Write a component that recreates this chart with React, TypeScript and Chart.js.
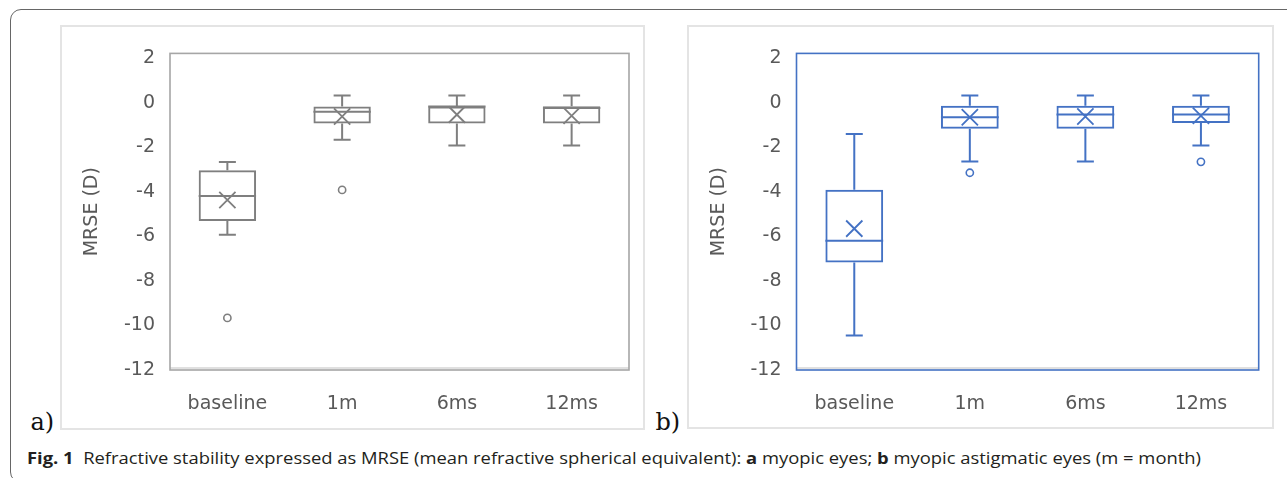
import React, { useEffect, useLayoutEffect, useRef } from 'react';
import { Chart, registerables } from 'chart.js';

Chart.register(...registerables);

// ---------- data ----------
const categories = ['baseline', '1m', '6ms', '12ms'];
const yTicks = [-12, -10, -8, -6, -4, -2, 0, 2];
const yMin = -12;
const yMax = 2.22;

// a) myopic eyes
const aMin = [-5.92, -1.66, -1.92, -1.92];
const aQ1 = [-5.31, -0.93, -0.93, -0.93];
const aMedian = [-4.18, -0.4, -0.17, -0.23];
const aQ3 = [-3.03, -0.17, -0.17, -0.15];
const aMax = [-2.66, 0.33, 0.33, 0.33];
const aMean = [-4.36, -0.61, -0.53, -0.58];
const aOutliers: (number | null)[] = [-9.66, -3.91, null, null];

// b) myopic astigmatic eyes
const bMin = [-10.45, -2.63, -2.63, -1.92];
const bQ1 = [-7.17, -1.16, -1.16, -0.91];
const bMedian = [-6.2, -0.65, -0.52, -0.52];
const bQ3 = [-3.9, -0.13, -0.13, -0.13];
const bMax = [-1.4, 0.33, 0.33, 0.33];
const bMean = [-5.65, -0.65, -0.61, -0.58];
const bOutliers: (number | null)[] = [null, -3.14, null, -2.65];

const yTitle = 'MRSE (D)';
const captionBold = 'Fig. 1';
const captionParts = [
  { t: 'Refractive stability expressed as MRSE (mean refractive spherical equivalent): ', b: false },
  { t: 'a', b: true },
  { t: ' myopic eyes; ', b: false },
  { t: 'b', b: true },
  { t: ' myopic astigmatic eyes (m = month)', b: false },
];

const CAPTION_WIDTH = 1174;
const TICK_FONT = { family: 'DejaVu Sans', size: 19 };
const TEXT_COLOR = '#595959';

type PanelProps = {
  left: number;
  top: number;
  width: number;
  height: number;
  inset: { left: number; top: number; right: number; bottom: number };
  color: string;
  borderColor: string;
  min: number[];
  q1: number[];
  median: number[];
  q3: number[];
  max: number[];
  mean: number[];
  outliers: (number | null)[];
};

function BoxPanel(p: PanelProps) {
  const ref = useRef<HTMLCanvasElement>(null);
  useEffect(() => {
    if (!ref.current) return;
    const extras = {
      id: 'boxExtras',
      afterDatasetDraw(chart: any, args: any) {
        if (args.index !== 0) return;
        const { ctx } = chart;
        const y = chart.scales.y;
        const meta = chart.getDatasetMeta(0);
        const cap = 8.5;
        ctx.save();
        ctx.strokeStyle = p.color;
        ctx.lineWidth = 2;
        meta.data.forEach((bar: any, i: number) => {
          const { x, width } = bar.getProps(['x', 'width'], true);
          const pMax = y.getPixelForValue(p.max[i]);
          const pQ3 = y.getPixelForValue(p.q3[i]);
          const pQ1 = y.getPixelForValue(p.q1[i]);
          const pMin = y.getPixelForValue(p.min[i]);
          const pMed = y.getPixelForValue(p.median[i]);
          ctx.beginPath();
          ctx.moveTo(x, pQ3);
          ctx.lineTo(x, pMax);
          ctx.moveTo(x - cap, pMax);
          ctx.lineTo(x + cap, pMax);
          ctx.moveTo(x, pQ1);
          ctx.lineTo(x, pMin);
          ctx.moveTo(x - cap, pMin);
          ctx.lineTo(x + cap, pMin);
          ctx.moveTo(x - width / 2, pMed);
          ctx.lineTo(x + width / 2, pMed);
          ctx.stroke();
        });
        ctx.restore();
      },
      afterDraw(chart: any) {
        const { ctx, chartArea: a } = chart;
        ctx.save();
        ctx.strokeStyle = '#d6d6d6';
        ctx.lineWidth = 1.5;
        ctx.beginPath();
        ctx.moveTo(a.left, a.bottom - 2);
        ctx.lineTo(a.right, a.bottom - 2);
        ctx.stroke();
        ctx.strokeStyle = p.borderColor;
        ctx.lineWidth = 1.6;
        ctx.strokeRect(a.left, a.top, a.right - a.left, a.bottom - a.top);
        ctx.restore();
      },
    };
    const chart = new Chart(ref.current, {
      type: 'bar',
      data: {
        labels: categories,
        datasets: [
          {
            type: 'bar',
            data: p.q1.map((v, i) => [v, p.q3[i]]) as any,
            backgroundColor: 'rgba(255,255,255,0)',
            borderColor: p.color,
            borderWidth: 2,
            borderSkipped: false,
            barPercentage: 0.5,
            categoryPercentage: 1,
            order: 2,
          },
          {
            type: 'line',
            data: p.mean,
            showLine: false,
            pointStyle: 'crossRot',
            pointRadius: 11.5,
            pointBorderWidth: 1.8,
            pointBorderColor: p.color,
            borderColor: p.color,
            order: 0,
          },
          {
            type: 'line',
            data: p.outliers as any,
            showLine: false,
            pointStyle: 'circle',
            pointRadius: 3.6,
            pointBorderWidth: 1.6,
            pointBorderColor: p.color,
            pointBackgroundColor: '#ffffff',
            borderColor: p.color,
            order: 1,
          },
        ],
      },
      options: {
        responsive: false,
        animation: false,
        events: [],
        layout: { padding: { top: p.inset.top, right: p.inset.right, left: 0, bottom: 0 } },
        plugins: { legend: { display: false }, tooltip: { enabled: false } },
        scales: {
          x: {
            grid: { display: false, drawTicks: false, tickLength: 0 },
            border: { display: false },
            ticks: { color: TEXT_COLOR, font: TICK_FONT, padding: 23, maxRotation: 0, autoSkip: false },
            afterFit: (s: any) => {
              s.height = p.inset.bottom;
            },
          },
          y: {
            min: yMin,
            max: yMax,
            afterBuildTicks: (s: any) => {
              s.ticks = yTicks.map((v) => ({ value: v }));
            },
            grid: { display: false, drawTicks: false, tickLength: 0 },
            border: { display: false },
            ticks: { color: TEXT_COLOR, font: TICK_FONT, padding: 15 },
            title: { display: true, text: yTitle, color: TEXT_COLOR, font: TICK_FONT, padding: { top: 19, bottom: 0 } },
            afterFit: (s: any) => {
              s.width = p.inset.left;
            },
          },
        },
      },
      plugins: [extras],
    } as any);
    return () => chart.destroy();
  }, []);
  return (
    <canvas
      ref={ref}
      width={p.width}
      height={p.height}
      style={{ position: 'absolute', left: p.left, top: p.top, width: p.width, height: p.height }}
    />
  );
}

export default function App() {
  const capRef = useRef<HTMLDivElement>(null);
  useLayoutEffect(() => {
    const fit = () => {
      const el = capRef.current;
      if (!el) return;
      el.style.transform = 'none';
      const w = el.getBoundingClientRect().width;
      if (w > 0) el.style.transform = `scaleX(${CAPTION_WIDTH / w})`;
    };
    fit();
    if ((document as any).fonts?.ready) (document as any).fonts.ready.then(fit);
  }, []);

  return (
    <div
      style={{
        position: 'absolute',
        left: 0,
        top: 0,
        width: 1287,
        height: 478,
        overflow: 'hidden',
        background: '#ffffff',
      }}
    >
      {/* outer figure border */}
      <div
        style={{
          position: 'absolute',
          left: 10,
          top: 9,
          width: 1320,
          height: 474,
          border: '1.5px solid #666666',
          borderRadius: 11,
          boxSizing: 'border-box',
        }}
      />
      {/* panel frames */}
      <div
        style={{
          position: 'absolute',
          left: 60,
          top: 25,
          width: 585,
          height: 405,
          border: '2px solid #e4e4e4',
          boxSizing: 'border-box',
        }}
      />
      <div
        style={{
          position: 'absolute',
          left: 687,
          top: 25,
          width: 587,
          height: 404,
          border: '2px solid #e4e4e4',
          boxSizing: 'border-box',
        }}
      />
      <BoxPanel
        left={62}
        top={27}
        width={581}
        height={401}
        inset={{ left: 108, top: 25, right: 14, bottom: 58 }}
        color="#7f7f7f"
        borderColor="#a6a6a6"
        min={aMin}
        q1={aQ1}
        median={aMedian}
        q3={aQ3}
        max={aMax}
        mean={aMean}
        outliers={aOutliers}
      />
      <BoxPanel
        left={689}
        top={27}
        width={583}
        height={400}
        inset={{ left: 107.5, top: 25, right: 13, bottom: 57 }}
        color="#4472c4"
        borderColor="#4472c4"
        min={bMin}
        q1={bQ1}
        median={bMedian}
        q3={bQ3}
        max={bMax}
        mean={bMean}
        outliers={bOutliers}
      />
      <div
        style={{
          position: 'absolute',
          left: 30.5,
          top: 407.7,
          fontFamily: 'DejaVu Serif',
          fontSize: 24,
          lineHeight: '28px',
          color: '#111111',
        }}
      >
        a)
      </div>
      <div
        style={{
          position: 'absolute',
          left: 655.5,
          top: 407.7,
          fontFamily: 'DejaVu Serif',
          fontSize: 24,
          lineHeight: '28px',
          color: '#111111',
        }}
      >
        b)
      </div>
      <div
        ref={capRef}
        style={{
          position: 'absolute',
          left: 26.5,
          top: 448,
          fontFamily: 'Open Sans',
          fontSize: 16,
          lineHeight: '20px',
          whiteSpace: 'nowrap',
          color: '#231f20',
          transformOrigin: 'left top',
          display: 'inline-block',
        }}
      >
        <b>{captionBold}</b>
        {'\u00a0\u00a0'}
        {captionParts.map((c, i) => (c.b ? <b key={i}>{c.t}</b> : <span key={i}>{c.t}</span>))}
      </div>
    </div>
  );
}
